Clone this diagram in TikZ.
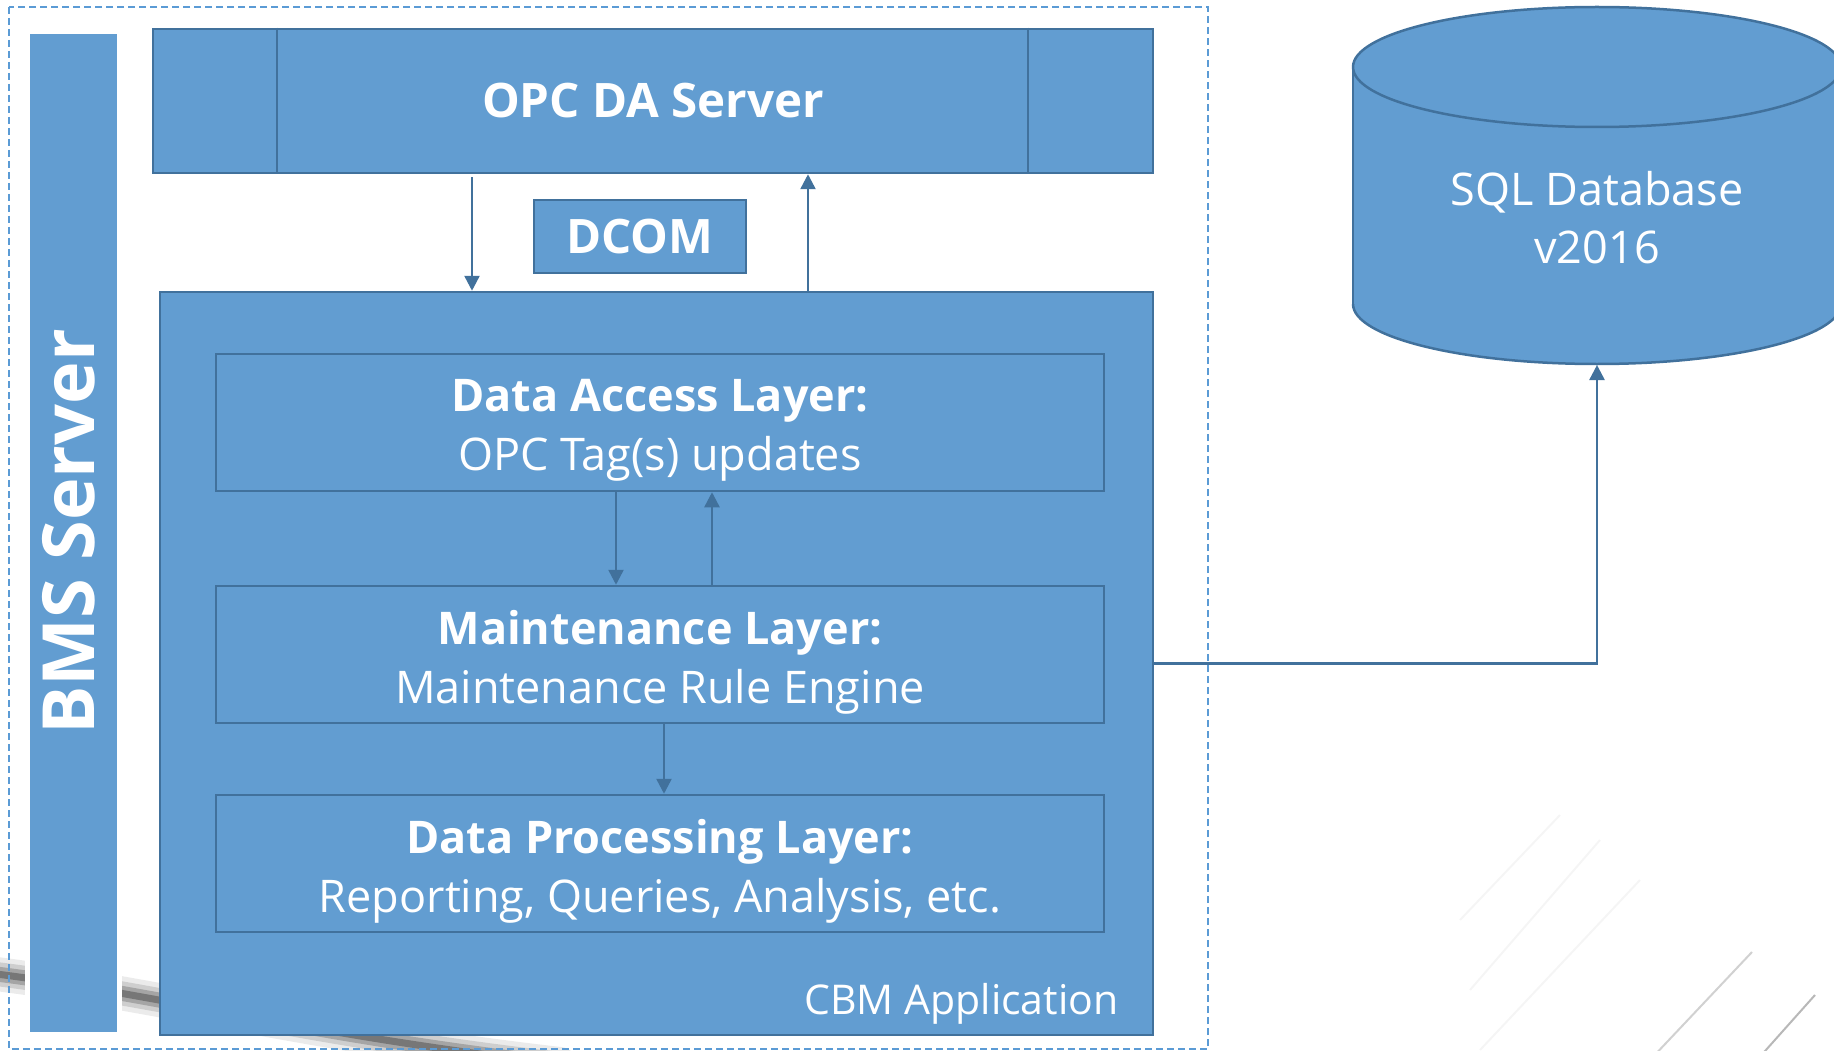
\documentclass[tikz,border=0pt]{standalone}
\usepackage{fontspec}
\setmainfont{Open Sans}
\usetikzlibrary{arrows.meta}
\definecolor{boxfill}{HTML}{629DD1}
\definecolor{boxline}{HTML}{41719C}
\definecolor{dashblue}{HTML}{5B9BD5}
\begin{document}
\begin{tikzpicture}[x=1pt,y=-1pt,
  box/.style={draw=boxline, fill=boxfill, line width=2.5pt, inner sep=0pt, text=white},
  layer/.style={box, minimum width=888pt, minimum height=137pt},
  layertext/.style={text=white, align=center, inner sep=0pt, font=\fontsize{45}{59}\selectfont},
  arr/.style={draw=boxline, line width=2.5pt, -{Triangle[length=15pt,width=15pt]}},
  bigbold/.style={font=\bfseries\fontsize{47.5}{56}\selectfont}]
\useasboundingbox (0,0) rectangle (1834,1051);
\clip (0,0) rectangle (1834,1051);
% background decoration
\foreach \w/\o in {34/0.08, 24/0.12, 15/0.2, 7/0.28}
  \draw[line width=\w pt, black, opacity=\o, line cap=round]
    (-20,972) .. controls (150,992) and (300,1034) .. (560,1064);
\foreach \a/\b/\c/\d/\o in {1752/952/1650/1060/0.18, 1815/995/1757/1060/0.28,
   1560/815/1460/920/0.04, 1600/840/1470/990/0.04, 1640/880/1480/1050/0.04}
  \draw[line width=2pt, black, opacity=\o] (\a,\b) -- (\c,\d);
% dashed frame
\draw[dashblue, line width=2pt, dash pattern=on 7pt off 4pt] (9,7) rectangle (1208,1049);
% BMS bar
\node[fill=boxfill, draw=white, line width=5pt, minimum width=92pt, minimum height=1002pt,
      inner sep=0pt] (bms) at (73,533) {};
\node[rotate=90, text=white, font=\bfseries\fontsize{72}{80}\selectfont] (bmstext) at (69,532) {BMS Server};
% OPC DA Server
\node[box, minimum width=1000pt, minimum height=144pt, bigbold] (opc) at (653,101) {OPC DA Server};
\draw[boxline, line width=2.5pt] (opc.north -| 277,0) -- (opc.south -| 277,0);
\draw[boxline, line width=2.5pt] (opc.north -| 1028,0) -- (opc.south -| 1028,0);
% DCOM
\node[box, minimum width=212pt, minimum height=73pt, bigbold] (dcom) at (640,236.5) {DCOM};
% CBM application
\node[box, minimum width=993pt, minimum height=743pt] (cbm) at (656.5,663.5) {};
\node[anchor=east, text=white, font=\fontsize{41}{48}\selectfont] (cbmlabel) at (1122,1004) {CBM Application};
% layers
\node[layer] (dal) at (660,422.5) {};
\node[layertext] (daltext) at (660,430) {\textbf{Data Access Layer:}\\OPC Tag(s) updates};
\node[layer] (ml) at (660,654.5) {};
\node[layertext] (mltext) at (660,662) {\textbf{Maintenance Layer:}\\Maintenance Rule Engine};
\node[layer] (dpl) at (660,863.5) {};
\node[layertext] (dpltext) at (660,871) {\textbf{Data Processing Layer:}\\Reporting, Queries, Analysis, etc.};
% database cylinder
\fill[boxfill] (1353,67) rectangle (1841,304);
\fill[boxfill] (1597,304) ellipse [x radius=244, y radius=60];
\draw[boxline, line width=2.5pt] (1353,67) -- (1353,304) (1841,67) -- (1841,304);
\begin{scope}
  \clip (1340,304) rectangle (1860,400);
  \draw[boxline, line width=2.5pt] (1597,304) ellipse [x radius=244, y radius=60];
\end{scope}
\draw[boxline, fill=boxfill, line width=2.5pt] (1597,67) ellipse [x radius=244, y radius=60];
\coordinate (dbbottom) at (1597,365);
\node[text=white, align=center, font=\fontsize{45}{58}\selectfont] (db) at (1597,218) {SQL Database\\v2016};
% connectors
\draw[arr] ([xshift=-181pt,yshift=-3pt]opc.south) -- ([xshift=-181pt]opc.south |- cbm.north);
\draw[arr] ([xshift=155pt]opc.south |- cbm.north) -- ([xshift=155pt]opc.south);
\draw[arr] ([xshift=-44pt]dal.south) -- ([xshift=-44pt]ml.north);
\draw[arr] ([xshift=52pt]ml.north) -- ([xshift=52pt]dal.south);
\draw[arr] ([xshift=4pt]ml.south) -- ([xshift=4pt]dpl.north);
\draw[arr] (cbm.east) -| (dbbottom);
\end{tikzpicture}
\end{document}
